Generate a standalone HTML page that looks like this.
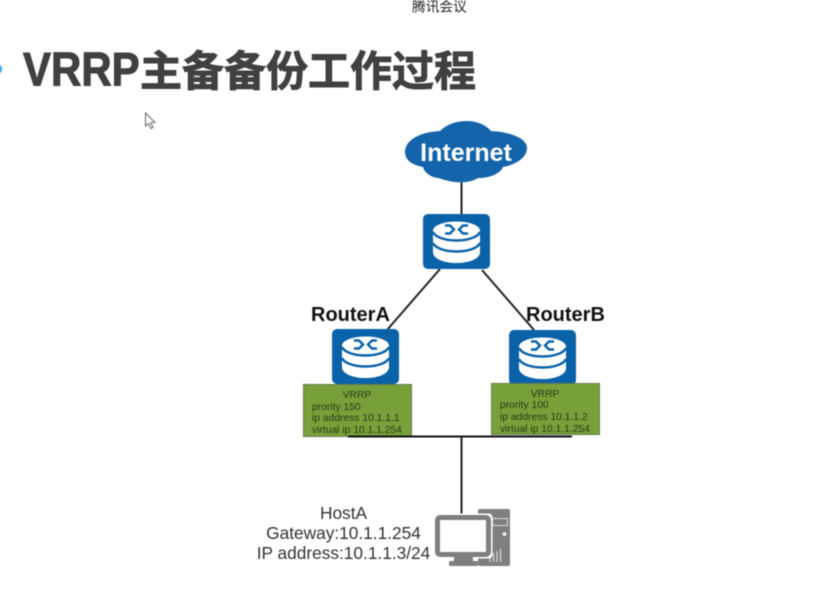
<!DOCTYPE html>
<html>
<head>
<meta charset="utf-8">
<style>
html,body{margin:0;padding:0;background:#fff;width:820px;height:606px;overflow:hidden}
svg{display:block;filter:blur(0.45px)}
text{font-family:"Liberation Sans","Noto Sans CJK SC",sans-serif}
</style>
</head>
<body>
<svg width="820" height="606" viewBox="0 0 820 606" xmlns="http://www.w3.org/2000/svg">
<defs>
<symbol id="router" viewBox="0 0 67 55" width="67" height="55">
<rect x="0" y="0" width="67" height="55" rx="5" fill="#0a62a8"/>
<path d="M10 16 V38 C10 45 21 49 33.500 49 C46 49 57 45 57 38 V16 Z" fill="#fff"/>
<ellipse cx="33.500" cy="16.500" rx="23.500" ry="9" fill="#fff"/>
<path d="M10 18 C12 23 22 26.500 33.500 26.500 C45 26.500 55 23 57 18" fill="none" stroke="#0a62a8" stroke-width="2.400"/>
<path d="M10 29 C12 34 22 37.500 33.500 37.500 C45 37.500 55 34 57 29" fill="none" stroke="#0a62a8" stroke-width="2.400"/>
<path d="M22 11.500 H27 L31 15.500 L27 19.500 H22 M45 11.500 H40 L36 15.500 L40 19.500 H45" fill="none" stroke="#0a62a8" stroke-width="2.400"/>
</symbol>
</defs>

<text x="412" y="11.500" font-size="13.700" fill="#222">腾讯会议</text>
<circle cx="-4" cy="69" r="6" fill="#18a0e8"/>
<text transform="translate(23,85.500) scale(1,1.130)" font-size="42" font-weight="700" fill="#404040" stroke="#404040" stroke-width="0.900">VRRP</text>
<text x="140" y="86" font-size="42" font-weight="700" fill="#404040" stroke="#404040" stroke-width="0.900">主备备份工作过程</text>

<path d="M145.500 113 V126 L148.500 123.500 L151 128.500 L153 127.500 L150.800 122.800 L155 122.500 Z" fill="#fff" stroke="#666" stroke-width="1"/>

<!-- connectors -->
<g stroke="#222" fill="none">
<line x1="461.500" y1="178" x2="461.500" y2="216" stroke-width="2"/>
<line x1="440" y1="269" x2="387" y2="330" stroke-width="2"/>
<line x1="482" y1="270" x2="534" y2="330" stroke-width="2"/>
</g>

<!-- cloud -->
<path d="M405 152 C405 140 420 132 440 131 C447 124 457 121 467 121 C477 121 486 125 491 131 C510 132 527 138 527 148 C527 158 515 165 503 167 C500 174 490 178 478 178 C472 182 462 183 455 182 C447 181 442 179 438 178 C430 177 424 172 423 167 C412 165 405 160 405 152 Z" fill="#1464ab"/>
<text x="466" y="161" font-size="25" font-weight="700" fill="#fff" text-anchor="middle">Internet</text>

<use href="#router" x="423" y="214"/>
<use href="#router" x="332" y="329"/>
<use href="#router" x="509" y="330"/>

<text x="311" y="321" font-size="20" font-weight="700" fill="#111">RouterA</text>
<text x="526" y="321" font-size="20" font-weight="700" fill="#111">RouterB</text>

<!-- green boxes -->
<rect x="303.500" y="384.500" width="108" height="52" fill="#77a03a" stroke="#66794f" stroke-width="1"/>
<g font-size="10.300" fill="#2a3a15">
<text x="357" y="398" text-anchor="middle">VRRP</text>
<text x="312" y="410">prority 150</text>
<text x="312" y="421">ip address 10.1.1.1</text>
<text x="312" y="433">virtual ip 10.1.1.254</text>
</g>
<rect x="491.500" y="383.500" width="108" height="51" fill="#77a03a" stroke="#66794f" stroke-width="1"/>
<g font-size="10.300" fill="#2a3a15">
<text x="545" y="397" text-anchor="middle">VRRP</text>
<text x="500" y="408">prority 100</text>
<text x="500" y="420">ip address 10.1.1.2</text>
<text x="500" y="432">virtual ip 10.1.1.254</text>
</g>

<!-- bus -->
<line x1="348" y1="436.500" x2="572" y2="436.500" stroke="#111" stroke-width="2"/>
<line x1="461.500" y1="436" x2="461.500" y2="516" stroke="#222" stroke-width="2"/>

<!-- host text -->
<g font-size="17.300" fill="#333" text-anchor="middle">
<text x="343.500" y="519">HostA</text>
<text x="343.500" y="539">Gateway:10.1.1.254</text>
<text x="343.500" y="559">IP address:10.1.1.3/24</text>
</g>

<!-- PC -->
<rect x="478" y="509" width="32" height="57" rx="2" fill="#7f7f7f"/>
<rect x="492.500" y="518.500" width="15" height="7" fill="none" stroke="#ddd" stroke-width="1"/>
<circle cx="504.500" cy="534" r="2" fill="#eee"/>
<path d="M490 562 V556 M493.500 562 V553 M497 562 V551 M500.500 562 V549" stroke="#ddd" stroke-width="1.200"/>
<rect x="433.500" y="513.500" width="59" height="45" rx="4" fill="#fff"/>
<rect x="437.500" y="517.500" width="51" height="37" rx="2.500" fill="#fff" stroke="#7f7f7f" stroke-width="5"/>
<rect x="454" y="557" width="19" height="5" fill="#7f7f7f"/>
<rect x="449" y="561" width="29" height="5" rx="1.500" fill="#7f7f7f"/>
</svg>
</body>
</html>
